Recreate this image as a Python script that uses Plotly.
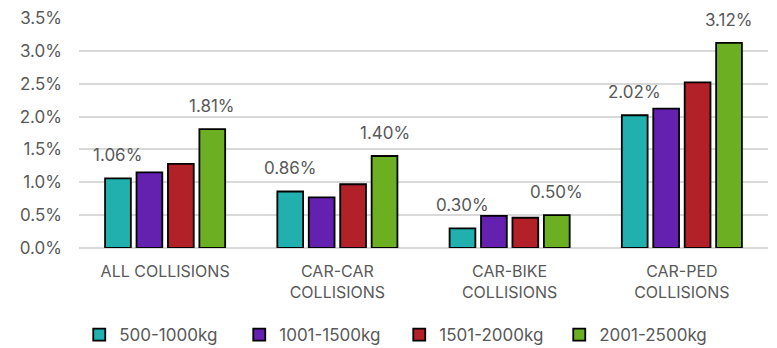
import plotly.graph_objects as go

categories = ["ALL COLLISIONS", "CAR-CAR<br>COLLISIONS", "CAR-BIKE<br>COLLISIONS", "CAR-PED<br>COLLISIONS"]
series_names = ["500-1000kg", "1001-1500kg", "1501-2000kg", "2001-2500kg"]
series_colors = ["#21B0AD", "#6421AF", "#B22028", "#6DAF22"]

rate_500_1000 = [1.06, 0.86, 0.30, 2.02]
rate_1001_1500 = [1.15, 0.77, 0.49, 2.12]
rate_1501_2000 = [1.28, 0.97, 0.46, 2.52]
rate_2001_2500 = [1.81, 1.40, 0.50, 3.12]
series_values = [rate_500_1000, rate_1001_1500, rate_1501_2000, rate_2001_2500]

# which series get a value label
labelled_series = [0, 3]

y_ticks = [0, 0.5, 1.0, 1.5, 2.0, 2.5, 3.0, 3.5]
y_tick_text = ["0.0%", "0.5%", "1.0%", "1.5%", "2.0%", "2.5%", "3.0%", "3.5%"]

FONT = "Inter"
TEXT_COLOR = "#595959"
BARGAP = 0.27

fig = go.Figure()
for name, color, vals in zip(series_names, series_colors, series_values):
    fig.add_trace(go.Bar(
        name=name, x=list(range(len(categories))), y=vals,
        marker=dict(color=color, line=dict(color="#000000", width=1.8)),
        hoverinfo="skip",
    ))

# value labels above selected bars, placed at each bar's centre
n = len(series_names)
slot = (1 - BARGAP) / n
annotations = []
for s in labelled_series:
    for ci, v in enumerate(series_values[s]):
        annotations.append(dict(
            x=ci + (s - (n - 1) / 2) * slot, y=v, xref="x", yref="y",
            text=f"{v:.2f}%", showarrow=False, yanchor="bottom", yshift=11,
            font=dict(family=FONT, size=17, color=TEXT_COLOR),
        ))

fig.update_layout(
    width=777, height=348,
    margin=dict(l=79, r=9, t=18, b=100, autoexpand=False),
    paper_bgcolor="white", plot_bgcolor="white",
    barmode="group", bargap=BARGAP, bargroupgap=0.18,
    font=dict(family=FONT, size=17, color=TEXT_COLOR),
    showlegend=True,
    legend=dict(orientation="h", xref="container", x=0.102, xanchor="left",
                yref="container", y=0.037, yanchor="middle",
                entrywidth=115, entrywidthmode="pixels",
                font=dict(family=FONT, size=17, color=TEXT_COLOR),
                itemclick=False),
    annotations=annotations,
)
fig.update_xaxes(
    tickmode="array", tickvals=list(range(len(categories))), ticktext=categories,
    range=[-0.5, len(categories) - 0.5], showgrid=False, zeroline=False,
    showline=False, ticks="", ticklabelstandoff=12,
    tickfont=dict(family=FONT, size=16, color=TEXT_COLOR),
)
fig.update_yaxes(
    range=[0, 3.5], tickvals=y_ticks, ticktext=y_tick_text,
    showgrid=True, gridcolor="#D9D9D9", gridwidth=1.5,
    zeroline=True, zerolinecolor="#D9D9D9", zerolinewidth=1.5,
    showline=False, ticks="", ticklabelstandoff=16,
    tickfont=dict(family=FONT, size=17, color=TEXT_COLOR),
)

fig.write_html("out.html")
